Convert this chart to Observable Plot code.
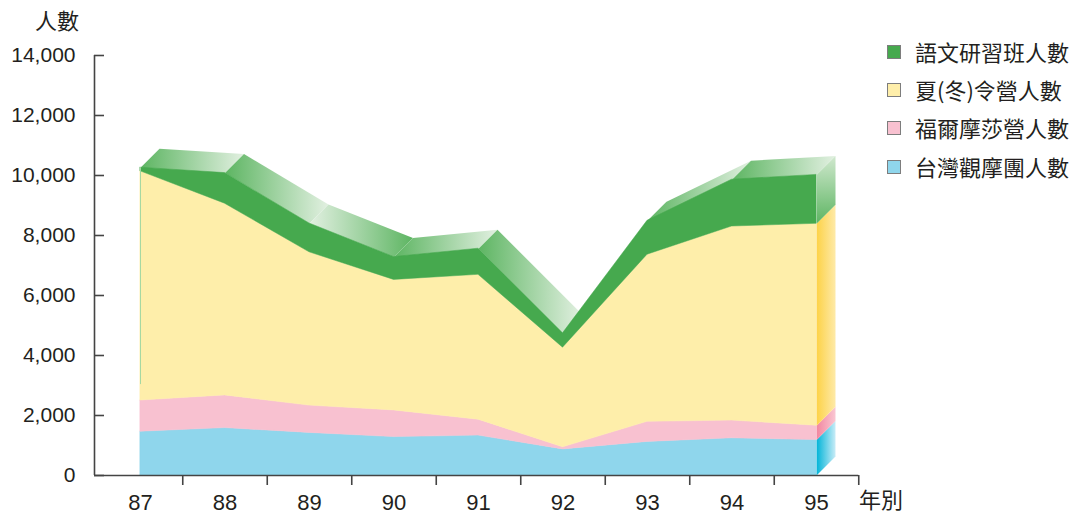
<!DOCTYPE html>
<html>
<head>
<meta charset="utf-8">
<script src="https://cdn.jsdelivr.net/npm/d3@7"></script>
<script src="https://cdn.jsdelivr.net/npm/@observablehq/plot@0.6"></script>
<style>
  body { margin: 0; background: #fff; }
  #wrap { position: relative; width: 1080px; height: 514px; overflow: hidden; }
  .lbl { position: absolute; font-family: "Noto Sans CJK TC", "Noto Sans CJK SC", sans-serif; font-size: 22px; line-height: 22px; color: #231f20; white-space: nowrap; }
  .sw { position: absolute; width: 12px; height: 12px; border: 1px solid #7d7d7d; }
</style>
</head>
<body>
<div id="wrap"></div>
<script>
// ---- data ----
const years = [87, 88, 89, 90, 91, 92, 93, 94, 95];
const seriesNames = ["台灣觀摩團人數", "福爾摩莎營人數", "夏(冬)令營人數", "語文研習班人數"];
const tour     = [1460, 1580, 1420, 1280, 1330,  870, 1120, 1240, 1180];
const formosa  = [1040, 1090,  910,  890,  530,   70,  670,  590,  480];
const camp     = [7640, 6390, 5110, 4350, 4830, 3320, 5570, 6470, 6730];
const language = [ 120, 1020,  960,  760,  870,  480, 1130, 1560, 1630];
const yTicks = [0, 2000, 4000, 6000, 8000, 10000, 12000, 14000];
const yTitle = "人數";
const xTitle = "年別";

// ---- styles ----
const frontColors = ["#8fd6ec", "#f8c1d0", "#feeeaa", "#46a94e"];
const sideGrad = [["#00b4d8", "#c8ecf7"], ["#f2869f", "#fac7d3"], ["#fdd247", "#feeaa8"], ["#d0e8ce", "#5db562"]];
const faceG = "#5db562", faceL = "#e2f0e1";
const faceDir = ["GL", "GL", "LG", "GL", "GL", "GL", "GL", "GL"];
const DX = 19 / 84.5;           // depth in year units (~19px)
const DY = 19 * 14000 / 420;     // depth in people units (~19px)

const valuesBySeries = [tour, formosa, camp, language];
const rows = [];
seriesNames.forEach((s, k) => years.forEach((yr, i) => rows.push({year: yr, series: s, value: valuesBySeries[k][i]})));

// cumulative bounds
const lo = [], hi = [];
valuesBySeries.forEach((vals, k) => {
  lo[k] = years.map((_, i) => k === 0 ? 0 : hi[k - 1][i]);
  hi[k] = years.map((_, i) => lo[k][i] + vals[i]);
});
const totalTop = hi[3];

const svgNS = "http://www.w3.org/2000/svg";
function defsMark() {
  const defs = document.createElementNS(svgNS, "defs");
  function grad(id, c1, c2, vertical) {
    const g = document.createElementNS(svgNS, "linearGradient");
    g.setAttribute("id", id);
    g.setAttribute("x1", 0); g.setAttribute("y1", 0);
    g.setAttribute("x2", vertical ? 0 : 1); g.setAttribute("y2", vertical ? 1 : 0);
    [[0, c1], [1, c2]].forEach(([o, c]) => {
      const s = document.createElementNS(svgNS, "stop");
      s.setAttribute("offset", o); s.setAttribute("stop-color", c);
      g.appendChild(s);
    });
    defs.appendChild(g);
  }
  faceDir.forEach((d, i) => grad("face" + i, d === "GL" ? faceG : faceL, d === "GL" ? faceL : faceG, false));
  sideGrad.forEach((c, k) => grad("side" + k, c[0], c[1], k === 3));
  return defs;
}

const marks = [defsMark];

// top faces (behind the front)
for (let i = 0; i < years.length - 1; i++) {
  const poly = [
    {x: years[i], y: totalTop[i]},
    {x: years[i + 1], y: totalTop[i + 1]},
    {x: years[i + 1] + DX, y: totalTop[i + 1] + DY},
    {x: years[i] + DX, y: totalTop[i] + DY}
  ];
  marks.push(Plot.line(poly, {x: "x", y: "y", fill: `url(#face${i})`, stroke: "none"}));
}
// right side faces
const last = years.length - 1;
seriesNames.forEach((s, k) => {
  const poly = [
    {x: years[last], y: lo[k][last]},
    {x: years[last], y: hi[k][last]},
    {x: years[last] + DX, y: hi[k][last] + DY},
    {x: years[last] + DX, y: lo[k][last] + DY}
  ];
  marks.push(Plot.line(poly, {x: "x", y: "y", fill: `url(#side${k})`, stroke: "none"}));
});

// front stacked areas
marks.push(Plot.areaY(rows, {x: "year", y: "value", fill: "series", stroke: "series", strokeWidth: 0.5, order: seriesNames}));
// thin light edge at the left of the front
marks.push(Plot.ruleX([years[0]], {y1: 3030, y2: totalTop[0], stroke: "#a6d8a2", strokeWidth: 1}));

const x0 = years[0] - 46 / 84.5;
const xEnd = years[last] + 0.5;
marks.push(
  Plot.ruleX([x0], {y1: yTicks[0], y2: yTicks[yTicks.length - 1], stroke: "#444", strokeWidth: 1.6}),
  Plot.ruleY([0], {stroke: "#444", strokeWidth: 1.6}),
  Plot.axisY({ticks: yTicks, tickSize: 10, dx: 10, tickFormat: () => "", stroke: "#444", strokeWidth: 1.6, label: null}),
  Plot.axisY({ticks: yTicks, tickSize: 0, tickPadding: 19, tickFormat: d3.format(","), fontSize: 21, fill: "#231f20", label: null}),
  Plot.axisX({ticks: years.map(y => y + 0.5), tickSize: 10, tickFormat: () => "", stroke: "#444", strokeWidth: 1.6, label: null}),
  Plot.axisX({ticks: years, tickSize: 0, tickPadding: 19, tickFormat: d => String(d), fontSize: 22, fill: "#231f20", label: null})
);

const chart = Plot.plot({
  width: 1080,
  height: 514,
  marginLeft: 94,
  marginRight: 1080 - 858.25,
  marginTop: 55,
  marginBottom: 39,
  x: {domain: [x0, xEnd], label: null},
  y: {domain: [0, 14000], label: null},
  color: {domain: seriesNames, range: frontColors},
  style: {fontFamily: "'Liberation Sans', Arial, 'Noto Sans CJK TC', sans-serif", fontSize: "21px", color: "#231f20", background: "#fff"},
  marks
});

const wrap = document.getElementById("wrap");
wrap.appendChild(chart);

function addLabel(text, left, topPx) {
  const d = document.createElement("div");
  d.className = "lbl";
  d.textContent = text;
  d.style.left = left + "px";
  d.style.top = topPx + "px";
  wrap.appendChild(d);
}
addLabel(yTitle, 35, 8);
addLabel(xTitle, 859, 487);

// legend (top item = top of stack)
const legendOrder = [3, 2, 1, 0];
legendOrder.forEach((k, j) => {
  const cy = 51.5 + j * 38.4;
  const sw = document.createElement("div");
  sw.className = "sw";
  sw.style.left = "887px";
  sw.style.top = (cy - 7) + "px";
  sw.style.background = frontColors[k];
  wrap.appendChild(sw);
  addLabel(seriesNames[k], 915, cy - 12);
});
</script>
</body>
</html>
